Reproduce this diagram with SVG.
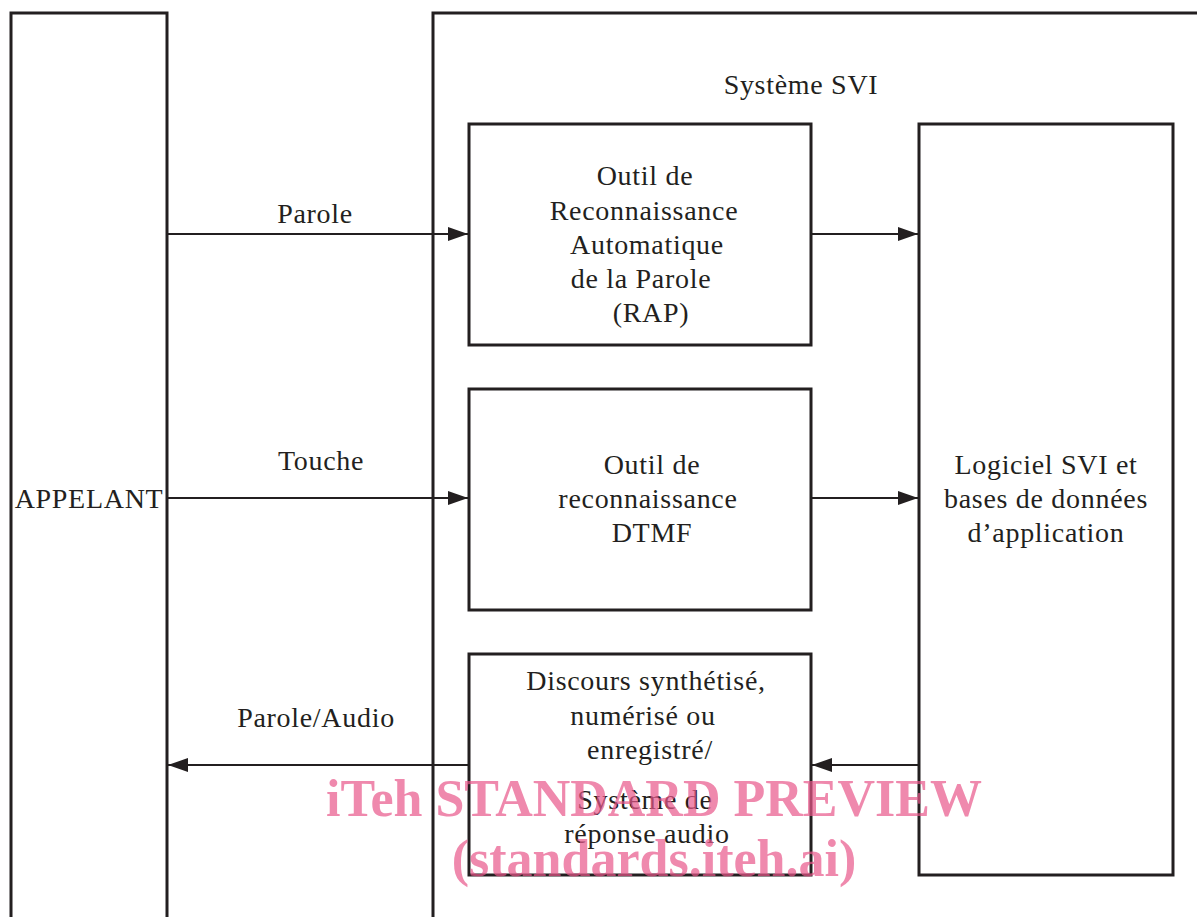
<svg xmlns="http://www.w3.org/2000/svg" width="1197" height="917" viewBox="0 0 1197 917">
<defs>
<marker id="ah" viewBox="0 0 20 14" refX="20" refY="7" markerWidth="20" markerHeight="14" markerUnits="userSpaceOnUse" orient="auto">
<path d="M0,0 L20,7 L0,14 Z" fill="#231f20"/>
</marker>
<style>
.box{fill:#fff;stroke:#231f20;stroke-width:3}
.t{font-family:"Liberation Serif","DejaVu Serif",serif;font-size:28px;letter-spacing:0.7px;fill:#231f20;text-anchor:middle}
.c{stroke:#231f20;stroke-width:2;fill:none;marker-end:url(#ah)}
.wm{font-family:"Liberation Serif","Times New Roman",serif;font-weight:bold;font-size:52px;fill:#e8578a;fill-opacity:0.7;text-anchor:middle}
</style>
</defs>
<rect width="1197" height="917" fill="#fff"/>
<g id="appelant">
<rect class="box" x="11" y="13" width="156" height="920"/>
<text class="t" x="89" y="508">APPELANT</text>
</g>
<g id="systeme-svi">
<rect class="box" x="433" y="13" width="800" height="920"/>
<text class="t" x="801" y="94">Système SVI</text>
</g>
<g id="rap">
<rect class="box" x="469" y="124" width="342" height="221"/>
<text class="t" x="645" y="185">Outil de</text>
<text class="t" x="644" y="220">Reconnaissance</text>
<text class="t" x="647" y="254">Automatique</text>
<text class="t" x="641" y="288">de la Parole</text>
<text class="t" x="651" y="322">(RAP)</text>
</g>
<g id="dtmf">
<rect class="box" x="469" y="389" width="342" height="221"/>
<text class="t" x="652" y="474">Outil de</text>
<text class="t" x="648" y="508">reconnaissance</text>
<text class="t" x="652" y="542">DTMF</text>
</g>
<g id="discours">
<rect class="box" x="469" y="654" width="342" height="221"/>
<text class="t" x="646" y="690">Discours synthétisé,</text>
<text class="t" x="643" y="725">numérisé ou</text>
<text class="t" x="650" y="759">enregistré/</text>
<text class="t" x="645" y="809">Système de</text>
<text class="t" x="647" y="843">réponse audio</text>
</g>
<g id="logiciel">
<rect class="box" x="919" y="124" width="254" height="751"/>
<text class="t" x="1046" y="474">Logiciel SVI et</text>
<text class="t" x="1046" y="508">bases de données</text>
<text class="t" x="1046" y="542">d’application</text>
</g>
<g id="connectors">
<line class="c" x1="168" y1="234" x2="468" y2="234"/>
<line class="c" x1="812" y1="234" x2="918" y2="234"/>
<line class="c" x1="168" y1="498" x2="468" y2="498"/>
<line class="c" x1="812" y1="498" x2="918" y2="498"/>
<line class="c" x1="918" y1="765" x2="812" y2="765"/>
<line class="c" x1="468" y1="765" x2="168" y2="765"/>
<text class="t" x="315" y="223">Parole</text>
<text class="t" x="321" y="470">Touche</text>
<text class="t" x="316" y="727">Parole/Audio</text>
</g>
<g id="watermark">
<text class="wm" x="654" y="816">iTeh STANDARD PREVIEW</text>
<text class="wm" x="654" y="876">(standards.iteh.ai)</text>
</g>
</svg>
